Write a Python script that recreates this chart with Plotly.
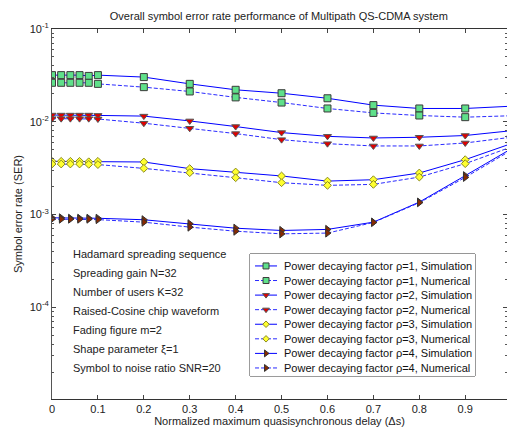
import plotly.graph_objects as go

x = [0, 0.02, 0.04, 0.06, 0.08, 0.1, 0.2, 0.3, 0.4, 0.5, 0.6, 0.7, 0.8, 0.9, 1.0]

p1_sim = [0.0318, 0.0318, 0.0318, 0.0318, 0.0312, 0.0318, 0.0303, 0.0256, 0.0221, 0.0203, 0.0179, 0.0151, 0.0139, 0.0139, 0.0147]
p1_num = [0.0263, 0.0263, 0.0263, 0.0263, 0.0263, 0.0256, 0.0236, 0.0212, 0.0183, 0.0161, 0.0139, 0.01245, 0.01167, 0.0112, 0.0116]
p2_sim = [0.0118, 0.0118, 0.0118, 0.0118, 0.0118, 0.0117, 0.0115, 0.0102, 0.00887, 0.00764, 0.00696, 0.00668, 0.0068, 0.0071, 0.0080]
p2_num = [0.0108, 0.0108, 0.0108, 0.0108, 0.0108, 0.0107, 0.00964, 0.0085, 0.00745, 0.00641, 0.0058, 0.00548, 0.00548, 0.0059, 0.0068]
p3_sim = [0.00374, 0.00374, 0.00374, 0.00374, 0.00370, 0.00374, 0.00368, 0.00312, 0.00287, 0.0026, 0.00229, 0.00237, 0.0028, 0.0039, 0.0058]
p3_num = [0.0035, 0.0035, 0.0035, 0.0035, 0.00347, 0.00345, 0.00314, 0.00282, 0.00249, 0.0022, 0.00206, 0.00211, 0.00253, 0.00353, 0.00534]
p4_sim = [0.00092, 0.00092, 0.00091, 0.00091, 0.00091, 0.00091, 0.000877, 0.000794, 0.000711, 0.000672, 0.00069, 0.000826, 0.00136, 0.00262, 0.0051]
p4_num = [0.00089, 0.00089, 0.00089, 0.00089, 0.00089, 0.00088, 0.000826, 0.00073, 0.00066, 0.000618, 0.00063, 0.00082, 0.00134, 0.00251, 0.00492]

names = [
    "Power decaying factor ρ=1, Simulation",
    "Power decaying factor ρ=1, Numerical",
    "Power decaying factor ρ=2, Simulation",
    "Power decaying factor ρ=2, Numerical",
    "Power decaying factor ρ=3, Simulation",
    "Power decaying factor ρ=3, Numerical",
    "Power decaying factor ρ=4, Simulation",
    "Power decaying factor ρ=4, Numerical",
]
series = [p1_sim, p1_num, p2_sim, p2_num, p3_sim, p3_num, p4_sim, p4_num]

notes = [
    "Hadamard spreading sequence",
    "Spreading gain N=32",
    "Number of users K=32",
    "Raised-Cosine chip waveform",
    "Fading figure m=2",
    "Shape parameter ξ=1",
    "Symbol to noise ratio SNR=20",
]

y_ticks = [1e-4, 1e-3, 1e-2, 1e-1]
y_ticktext = ["10<sup>-4</sup>", "10<sup>-3</sup>", "10<sup>-2</sup>", "10<sup>-1</sup>"]
x_ticks = [0, 0.1, 0.2, 0.3, 0.4, 0.5, 0.6, 0.7, 0.8, 0.9]
x_ticktext = ["0", "0.1", "0.2", "0.3", "0.4", "0.5", "0.6", "0.7", "0.8", "0.9"]

markers = [
    dict(symbol="square", size=7, color="#5fe08a", line=dict(color="#3a3a3a", width=1)),
    dict(symbol="square", size=7, color="#5fe08a", line=dict(color="#3a3a3a", width=1)),
    dict(symbol="triangle-down", size=7, color="#e00000", line=dict(color="#555555", width=1)),
    dict(symbol="triangle-down", size=7, color="#e00000", line=dict(color="#555555", width=1)),
    dict(symbol="diamond", size=6, color="#ffff30", line=dict(color="#8a8a20", width=1)),
    dict(symbol="diamond", size=6, color="#ffff30", line=dict(color="#8a8a20", width=1)),
    dict(symbol="triangle-right", size=7, color="#8b2a00", line=dict(color="#333333", width=1)),
    dict(symbol="triangle-right", size=7, color="#8b2a00", line=dict(color="#333333", width=1)),
]
sim_line = dict(color="#0000ff", width=1, dash="solid")
num_line = dict(color="#2a2aff", width=1, dash="4px,2px")

fig = go.Figure()
for i, (nm, ys) in enumerate(zip(names, series)):
    fig.add_trace(go.Scatter(
        x=x, y=ys, name=nm, mode="lines+markers",
        line=sim_line if i % 2 == 0 else num_line,
        marker=markers[i], showlegend=False,
    ))

# compact legend (MATLAB style) drawn on its own small axes
legend_rows = list(range(len(names)))
sample_x = [5, 16, 27]
for i, nm in enumerate(names):
    fig.add_trace(go.Scatter(
        x=sample_x, y=[legend_rows[i]] * 3, mode="lines", xaxis="x2", yaxis="y2",
        line=sim_line if i % 2 == 0 else num_line, showlegend=False, hoverinfo="skip",
    ))
    fig.add_trace(go.Scatter(
        x=[sample_x[1]], y=[legend_rows[i]], mode="markers", xaxis="x2", yaxis="y2",
        marker=dict(markers[i], size=markers[i]["size"] - 1), showlegend=False, hoverinfo="skip",
    ))
    fig.add_annotation(text=nm, xref="x2", yref="y2", x=32, y=legend_rows[i],
                       xanchor="left", yanchor="middle", showarrow=False,
                       font=dict(size=11, color="#111111"))

fig.add_shape(type="rect", xref="x2 domain", yref="y2 domain", x0=0, x1=1, y0=0, y1=1,
              line=dict(color="#333333", width=1), fillcolor="white", layer="below")

minor_vals = [m * 10 ** e for e in range(-5, -1) for m in range(2, 10)]

fig.update_layout(
    width=507, height=429,
    margin=dict(l=52, r=0, t=29, b=30, autoexpand=False),
    paper_bgcolor="white", plot_bgcolor="white",
    font=dict(family="Liberation Sans, Arial, sans-serif", size=11, color="#222222"),
    title=dict(text="Overall symbol error rate performance of Multipath QS-CDMA system",
               x=0.55, xanchor="center", y=0.962, yanchor="middle",
               font=dict(size=11)),
    showlegend=False,
    xaxis=dict(range=[0, 0.991], tickvals=x_ticks, ticktext=x_ticktext,
               ticks="inside", ticklen=4, showgrid=False, zeroline=False,
               showline=True, linecolor="#333333", linewidth=1, mirror="ticks",
               title=dict(text="Normalized maximum quasisynchronous delay (Δs)", standoff=2,
                          font=dict(size=11))),
    yaxis=dict(type="log", range=[-4.99, -1], tickvals=y_ticks, ticktext=y_ticktext,
               ticks="inside", ticklen=4, showgrid=False, zeroline=False,
               showline=True, linecolor="#555555", linewidth=1, mirror="ticks",
               minor=dict(tickvals=minor_vals, ticks="inside", ticklen=2, tickcolor="#555555"),
               title=dict(text="Symbol error rate (SER)", standoff=4, font=dict(size=11))),
    xaxis2=dict(domain=[0.4352, 0.9297], range=[0, 225], anchor="y2",
                visible=False, fixedrange=True),
    yaxis2=dict(domain=[0.0622, 0.3919], range=[7.55, -0.82], anchor="x2",
                visible=False, fixedrange=True),
)

for k, t in enumerate(notes):
    fig.add_annotation(text=t, xref="paper", yref="paper", x=0.042, y=0.392 - k * 0.0515,
                       xanchor="left", yanchor="middle", showarrow=False, font=dict(size=11))

fig.write_html("out.html", config={"displayModeBar": False},
               post_script="document.body.style.margin='0';")
